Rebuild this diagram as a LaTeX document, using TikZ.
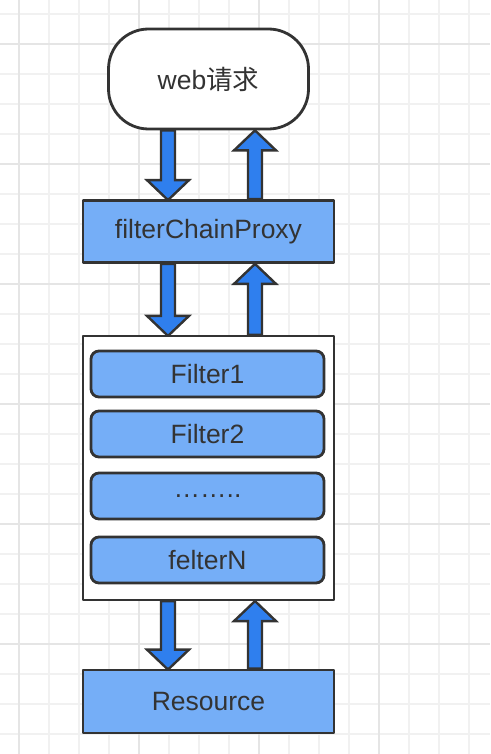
\documentclass[tikz,border=0pt]{standalone}
\usepackage{fontspec}
\setmainfont{Liberation Sans}
\newfontfamily\cjk{Noto Sans CJK SC}
\usetikzlibrary{calc}
\definecolor{gridminor}{HTML}{F1F1F1}
\definecolor{gridmajor}{HTML}{E5E5E5}
\definecolor{boxblue}{HTML}{75AEF7}
\definecolor{arrowblue}{HTML}{2F7FEE}
\definecolor{darkline}{HTML}{333333}
\pgfdeclarelayer{background}
\pgfsetlayers{background,main}

% block arrows: #1 = tail, #2 = tip
\newcommand{\flowdown}[2]{%
  \draw[flowarrow] ($(#1)+(-7,0)$) -- ($(#2)+(-7,-20)$) -- ($(#2)+(-21,-20)$) -- (#2)
    -- ($(#2)+(21,-20)$) -- ($(#2)+(7,-20)$) -- ($(#1)+(7,0)$) -- cycle;}
\newcommand{\flowup}[2]{%
  \draw[flowarrow] ($(#1)+(-7,0)$) -- ($(#2)+(-7,20)$) -- ($(#2)+(-21,20)$) -- (#2)
    -- ($(#2)+(21,20)$) -- ($(#2)+(7,20)$) -- ($(#1)+(7,0)$) -- cycle;}

\tikzset{
  basebox/.style={draw=darkline,line width=2.8pt,text=darkline,inner sep=0pt,
    font=\fontsize{26.5}{30}\selectfont},
  roundbox/.style={basebox,fill=white,rounded corners=40pt,minimum width=200pt,minimum height=100pt},
  bluebox/.style={basebox,fill=boxblue,minimum width=251pt},
  filterbox/.style={basebox,fill=boxblue,rounded corners=8pt,minimum width=233pt,minimum height=46pt},
  flowarrow/.style={draw=darkline,line width=2.4pt,fill=arrowblue,line join=miter}
}

\begin{document}
\begin{tikzpicture}[line cap=round,line join=round,x=1pt,y=-1pt]
  \useasboundingbox (0,0) rectangle (490,754);
  \node[roundbox] (web) at (208.5,79) {web{\cjk 请求}};
  \node[bluebox,minimum height=62pt] (proxy) at (208.5,231.5) {filterChainProxy};
  \node[basebox,fill=white,line width=2.2pt,minimum width=251pt,minimum height=264pt] (chain) at (208.5,468) {};
  \node[filterbox] (f1) at (207.5,374) {Filter1};
  \node[filterbox] (f2) at (207.5,434) {Filter2};
  \node[filterbox] (fdots) at (207.5,496) {……..};
  \node[filterbox] (fn) at (207.5,560) {felterN};
  \node[bluebox,minimum height=63pt] (res) at (208.5,701.5) {Resource};
  \begin{pgfonlayer}{background}
    \foreach \x in {19,49,...,469}
      \draw[gridminor,line width=1.4pt] (\x,0) -- (\x,754);
    \foreach \y in {14,44,...,734}
      \draw[gridminor,line width=1.4pt] (0,\y) -- (490,\y);
    \foreach \x in {19,139,259,379}
      \draw[gridmajor,line width=1.4pt] (\x,0) -- (\x,754);
    \foreach \y in {44,164,284,404,524,644}
      \draw[gridmajor,line width=1.4pt] (0,\y) -- (490,\y);
    \foreach \a/\b in {web/proxy,proxy/chain,chain/res} {
      \coordinate (\a dn) at ($(\a.south)+(-40.5,0)$);
      \coordinate (\b dn) at ($(\b.north)+(-40.5,1)$);
      \coordinate (\b up) at ($(\b.north)+(46.5,0)$);
      \coordinate (\a up) at ($(\a.south)+(46.5,0)$);
      \flowdown{\a dn}{\b dn}
      \flowup{\b up}{\a up}
    }
  \end{pgfonlayer}
\end{tikzpicture}
\end{document}
